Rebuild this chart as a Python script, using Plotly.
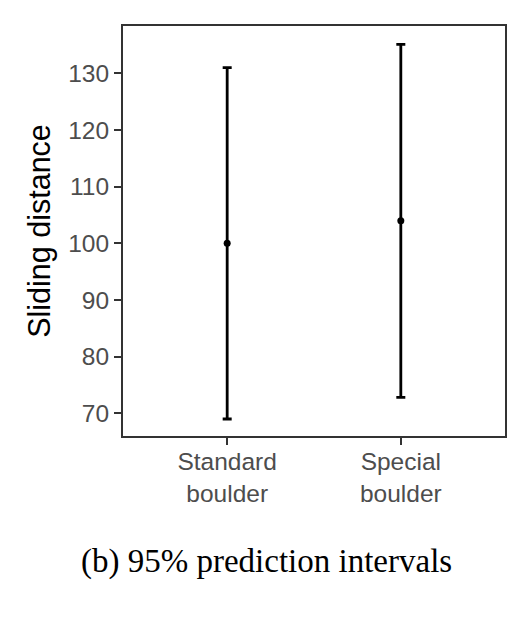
import plotly.graph_objects as go

# values
groups = ["Standard<br>boulder", "Special<br>boulder"]
fit = [100.0, 104.0]
lower = [69.0, 72.8]
upper = [131.0, 135.1]

y_ticks = [70, 80, 90, 100, 110, 120, 130]

err_plus = [u - f for u, f in zip(upper, fit)]
err_minus = [f - l for f, l in zip(fit, lower)]

fig = go.Figure()
fig.add_trace(go.Scatter(
    x=groups, y=fit, mode="markers",
    marker=dict(color="black", size=7),
    error_y=dict(type="data", array=err_plus, arrayminus=err_minus,
                 color="black", thickness=2.8, width=4.5),
    showlegend=False,
))

axis_common = dict(
    showline=True, mirror=True, linecolor="#333333", linewidth=2,
    showgrid=False, zeroline=False,
    ticks="outside", ticklen=7, tickwidth=2, tickcolor="#333333",
    tickfont=dict(family="Liberation Sans", size=24.5, color="#4D4D4D"),
)

fig.update_xaxes(range=[-0.6, 1.6], ticklabelstandoff=-4, **axis_common)
fig.update_yaxes(range=[66.0, 138.35], tickvals=y_ticks,
                 title=dict(text="Sliding distance", standoff=9,
                            font=dict(family="Liberation Sans", size=30.5, color="black")),
                 **axis_common)

# caption under the panel
fig.add_annotation(
    text="(b) 95% prediction intervals",
    xref="paper", yref="paper", x=0.376, y=-0.305,
    xanchor="center", yanchor="middle", showarrow=False,
    font=dict(family="Liberation Serif", size=33, color="black"),
)

# page body adds ~8px offset, so the figure is a bit smaller than the window
fig.update_layout(
    width=512, height=612,
    margin=dict(l=115, r=15, t=18, b=184),
    plot_bgcolor="white", paper_bgcolor="white",
)

fig.write_html("out.html")
